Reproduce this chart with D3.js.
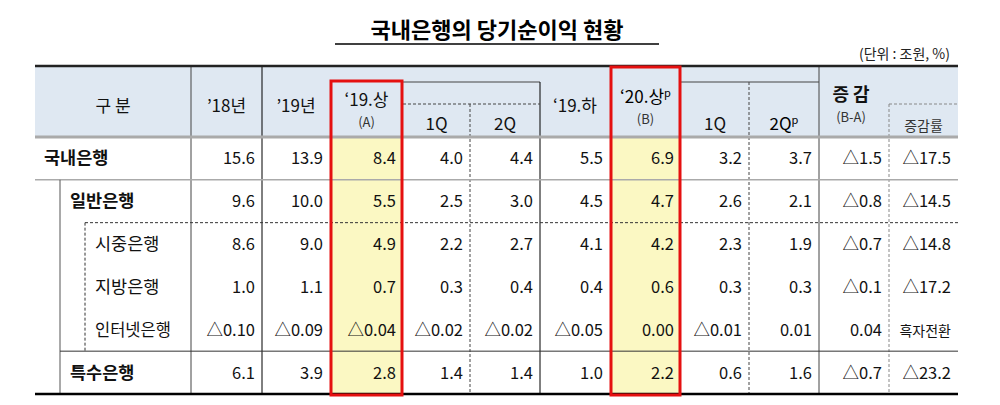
<!DOCTYPE html>
<html><head><meta charset="utf-8">
<script src="https://cdn.jsdelivr.net/npm/d3@7"></script>
<style>body{margin:0;background:#fff}svg{font-family:"Noto Sans CJK KR","Noto Sans",sans-serif}</style>
</head><body><svg id="c" width="1000" height="405"></svg>
<script>
const title = "국내은행의 당기순이익 현황";
const unit = "(단위 : 조원, %)";
const rowLabels = ["국내은행","일반은행","시중은행","지방은행","인터넷은행","특수은행"];
const colKeys = ["y18","y19","h19a","q1_19","q2_19","h19b","h20a","q1_20","q2_20","diff","rate"];
const v18   = ["15.6","9.6","8.6","1.0","△0.10","6.1"];
const v19   = ["13.9","10.0","9.0","1.1","△0.09","3.9"];
const v19a  = ["8.4","5.5","4.9","0.7","△0.04","2.8"];
const v19q1 = ["4.0","2.5","2.2","0.3","△0.02","1.4"];
const v19q2 = ["4.4","3.0","2.7","0.4","△0.02","1.4"];
const v19b  = ["5.5","4.5","4.1","0.4","△0.05","1.0"];
const v20a  = ["6.9","4.7","4.2","0.6","0.00","2.2"];
const v20q1 = ["3.2","2.6","2.3","0.3","△0.01","0.6"];
const v20q2 = ["3.7","2.1","1.9","0.3","0.01","1.6"];
const vDiff = ["△1.5","△0.8","△0.7","△0.1","0.04","△0.7"];
const vRate = ["△17.5","△14.5","△14.8","△17.2","흑자전환","△23.2"];
const series = [v18,v19,v19a,v19q1,v19q2,v19b,v20a,v20q1,v20q2,vDiff,vRate];

const svg = d3.select("#c");
const edges = [191,262,330,403,470,540,610,681,749,819,889,958];
const xL = d3.scaleOrdinal().domain(colKeys).range(edges.slice(0,-1));
const xR = d3.scaleOrdinal().domain(colKeys).range(edges.slice(1));
const y = d3.scaleBand().domain(rowLabels).range([137,394]).paddingInner(0);
const L=35, R=958, T0=66, hb=137;

svg.append("text").attr("x",497).attr("y",38).attr("text-anchor","middle").attr("font-size",22).attr("font-weight",600).text(title);
svg.append("line").attr("x1",335).attr("x2",659).attr("y1",44).attr("y2",44).attr("stroke","#000").attr("stroke-width",1.5);
svg.append("text").attr("x",950).attr("y",59).attr("text-anchor","end").attr("font-size",14).attr("fill","#222").text(unit);

svg.append("rect").attr("x",L).attr("y",T0).attr("width",R-L).attr("height",hb-T0).attr("fill","#dfe8f2");
["h19a","h20a"].forEach(k=>svg.append("rect").attr("x",xL(k)).attr("y",hb).attr("width",xR(k)-xL(k)).attr("height",394-hb).attr("fill","#fbf8c3"));

const ln=(x1,y1,x2,y2,c="#333",w=1,d=null)=>svg.append("line").attr("x1",x1).attr("y1",y1).attr("x2",x2).attr("y2",y2).attr("stroke",c).attr("stroke-width",w).attr("stroke-dasharray",d);

ln(xR("y18"),T0,xR("y18"),394,"#000");
ln(xL("y18"),T0,xL("y18"),394,"#444");
ln(xR("q2_20"),T0,xR("q2_20"),394,"#444");
ln(xR("h19a"),82,xR("q2_19"),82,"#444");
ln(xR("h20a"),82,xR("q2_20"),82,"#444");
ln(xR("q2_19"),82,xR("q2_19"),394,"#000");
ln(xR("h19a"),104,xR("q2_19"),104,"#444",1,"3,2");
ln(xR("q1_19"),104,xR("q1_19"),394,"#444",1,"3,2");
ln(xR("q1_20"),82,xR("q1_20"),394,"#444",1,"3,2");
ln(xR("diff"),104,R,104,"#888",1,"3,2");
ln(xR("diff"),104,xR("diff"),394,"#888",1,"3,2");
ln(L,hb,R,hb,"#aaa",3);
ln(L,y("일반은행"),R,y("일반은행"),"#aaa",1.5);
ln(60,y("일반은행"),60,394,"#555");
ln(85,y("시중은행"),R,y("시중은행"),"#333",1,"3,2");
ln(85,y("시중은행"),85,y("특수은행"),"#333",1,"3,2");
ln(60,y("특수은행"),R,y("특수은행"),"#333");
ln(L,T0,R,T0,"#222",2.5);
ln(L,394,R,394,"#000",2.5);

const ht=(x,yy,t,s=17,w=400,fill="#111")=>svg.append("text").attr("x",x).attr("y",yy).attr("text-anchor","middle").attr("font-size",s).attr("font-weight",w).attr("fill",fill).text(t);
const mid=k=>(xL(k)+xR(k))/2;
ht(113,112,"구  분");
ht(mid("y18"),112,"’18년");
ht(mid("y19"),112,"’19년");
ht(mid("h19a"),106,"‘19.상");
ht(mid("h19a"),127,"(A)",13,400,"#333");
ht(mid("q1_19"),130,"1Q");
ht(mid("q2_19"),130,"2Q");
ht(mid("h19b"),112,"‘19.하");
svg.append("text").attr("x",mid("h20a")).attr("y",103).attr("text-anchor","middle").attr("font-size",17).html('‘20.상<tspan font-size="11" dy="-6">p</tspan>');
ht(mid("h20a"),124,"(B)",13,400,"#333");
ht(mid("q1_20"),130,"1Q");
svg.append("text").attr("x",mid("q2_20")).attr("y",130).attr("text-anchor","middle").attr("font-size",17).html('2Q<tspan font-size="11" dy="-6">p</tspan>');
ht(851,101,"증 감",18,700);
ht(851,122,"(B-A)",13,400,"#333");
ht(mid("rate"),131,"증감률",14,400,"#333");

const lx=[44,70,95,95,95,70], lw=[600,600,400,400,400,600];
rowLabels.forEach((r,i)=>svg.append("text").attr("x",lx[i]).attr("y",y(r)+y.bandwidth()/2+6).attr("font-size",i==4?16.5:17.5).attr("font-weight",lw[i]).attr("fill","#111").text(r));

colKeys.forEach((k,j)=>{
  svg.selectAll(null).data(series[j]).join("text")
    .attr("x",xR(k)-7).attr("y",(d,i)=>y(rowLabels[i])+y.bandwidth()/2+6)
    .attr("text-anchor","end").attr("font-size",(d)=>d==="흑자전환"?14:16.5).attr("fill","#111").text(d=>d);
});

svg.append("rect").attr("x",xL("h19a")+1).attr("y",81).attr("width",xR("h19a")-xL("h19a")-2).attr("height",314).attr("fill","none").attr("stroke","#e51010").attr("stroke-width",3);
svg.append("rect").attr("x",xL("h20a")+1).attr("y",67).attr("width",xR("h20a")-xL("h20a")-2).attr("height",328).attr("fill","none").attr("stroke","#e51010").attr("stroke-width",3);
</script></body></html>
